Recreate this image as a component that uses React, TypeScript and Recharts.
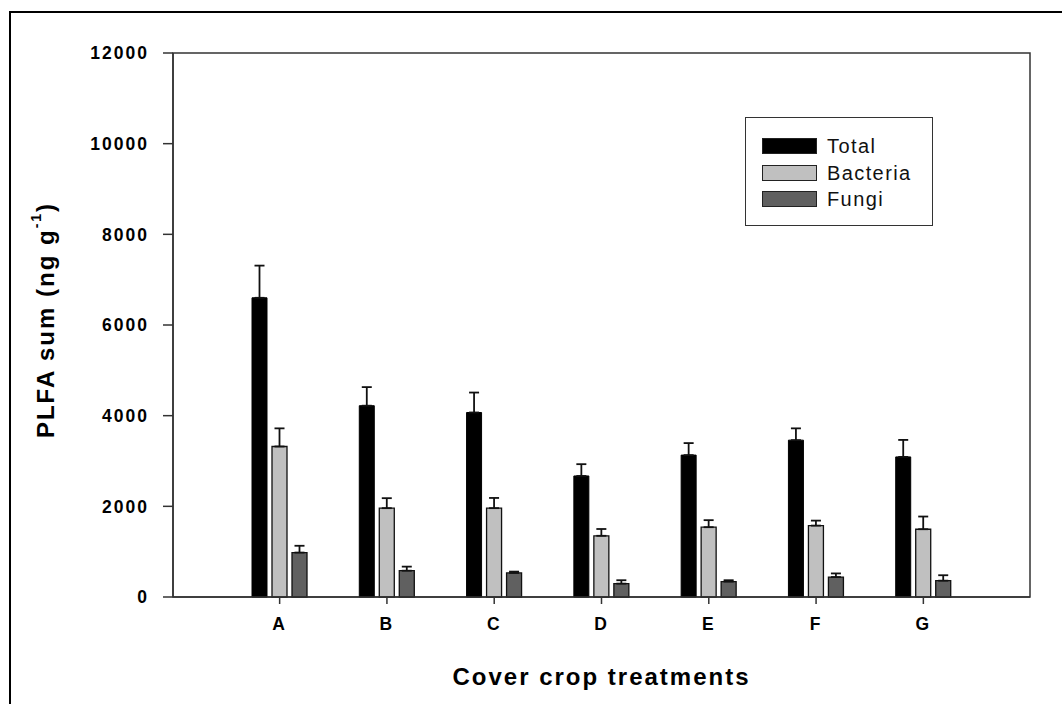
import React from 'react'
import {
  BarChart,
  Bar,
  XAxis,
  YAxis,
  ErrorBar,
  Legend,
  usePlotArea,
} from 'recharts'

const categories = ['A', 'B', 'C', 'D', 'E', 'F', 'G']
const totalMean = [6600, 4220, 4070, 2670, 3130, 3460, 3090]
const totalErr = [710, 410, 440, 260, 265, 260, 375]
const bacteriaMean = [3320, 1960, 1960, 1350, 1540, 1575, 1495]
const bacteriaErr = [400, 220, 225, 150, 155, 110, 280]
const fungiMean = [980, 580, 530, 295, 340, 440, 360]
const fungiErr = [150, 90, 30, 75, 30, 80, 120]
const seriesOrder = ['Total', 'Bacteria', 'Fungi']
const yTicks = [0, 2000, 4000, 6000, 8000, 10000, 12000]

const FONT = 'Arial, "Liberation Sans", sans-serif'
const AXIS = '#333'

// error bars only point upward, so the low side is 0
const data = categories.map((name, i) => ({
  name,
  total: totalMean[i],
  totalErr: [0, totalErr[i]],
  bacteria: bacteriaMean[i],
  bacteriaErr: [0, bacteriaErr[i]],
  fungi: fungiMean[i],
  fungiErr: [0, fungiErr[i]],
}))

// box round the plot area (SigmaPlot style frame)
function PlotFrame() {
  const area = usePlotArea()
  if (!area) return null
  return (
    <rect
      x={area.x}
      y={area.y}
      width={area.width}
      height={area.height}
      fill="none"
      stroke={AXIS}
      strokeWidth={1.5}
    />
  )
}

function LegendBox({ payload }: any) {
  const items = [...(payload ?? [])].sort(
    (a: any, b: any) => seriesOrder.indexOf(a.value) - seriesOrder.indexOf(b.value)
  )
  return (
    <div
      style={{
        width: 188,
        height: 109,
        boxSizing: 'border-box',
        border: `1.5px solid ${AXIS}`,
        background: '#fff',
        paddingTop: 15,
        paddingLeft: 16,
      }}
    >
      {items.map((p: any) => (
        <div key={p.value} style={{ display: 'flex', alignItems: 'center', height: 26.5 }}>
          <div
            style={{
              width: 55,
              height: 16,
              boxSizing: 'border-box',
              background: p.payload?.fill ?? p.color,
              border: '1.5px solid #222',
            }}
          />
          <span
            style={{
              marginLeft: 10,
              fontFamily: FONT,
              fontSize: 20,
              letterSpacing: 1.4,
              color: '#111',
              lineHeight: '20px',
            }}
          >
            {p.value}
          </span>
        </div>
      ))}
    </div>
  )
}

function YLabel({ viewBox }: any) {
  const x = viewBox.x + 22
  const y = 320
  return (
    <text
      x={x}
      y={y}
      transform={`rotate(-90 ${x} ${y})`}
      textAnchor="middle"
      dominantBaseline="central"
      fontFamily={FONT}
      fontWeight="bold"
      fontSize={24}
      letterSpacing={2}
      fill="#000"
    >
      PLFA sum (ng g
      <tspan dy={-9} fontSize={14}>-1</tspan>
      <tspan dy={9}>)</tspan>
    </text>
  )
}

function XLabel({ viewBox }: any) {
  return (
    <text
      x={viewBox.x + viewBox.width / 2}
      y={viewBox.y + 79}
      textAnchor="middle"
      dominantBaseline="central"
      fontFamily={FONT}
      fontWeight="bold"
      fontSize={24}
      letterSpacing={2}
      fill="#000"
    >
      Cover crop treatments
    </text>
  )
}

const tickStyle = {
  fontFamily: FONT,
  fontWeight: 'bold',
  fontSize: 17.5,
  letterSpacing: 2,
  fill: '#000',
}

export default function App() {
  return (
    <div
      style={{
        position: 'absolute',
        left: 0,
        top: 0,
        width: 1062,
        height: 704,
        overflow: 'hidden',
        background: '#fff',
      }}
    >
      <div
        style={{
          position: 'absolute',
          left: 9,
          top: 11,
          width: 2000,
          height: 2000,
          borderLeft: '2px solid #000',
          borderTop: '2px solid #000',
        }}
      />
      <BarChart
        width={1062}
        height={704}
        data={data}
        margin={{ top: 53, right: 32, bottom: 47, left: 23 }}
        barSize={15}
        barGap={5}
        style={{ position: 'absolute', left: 0, top: 0 }}
      >
        <PlotFrame />
        <XAxis
          dataKey="name"
          padding={{ left: 53, right: 53 }}
          height={60}
          axisLine={{ stroke: AXIS, strokeWidth: 1.5 }}
          tickLine={{ stroke: AXIS, strokeWidth: 1.5 }}
          tickSize={7}
          tickMargin={14}
          tick={tickStyle}
          interval={0}
          label={<XLabel />}
        />
        <YAxis
          domain={[0, 12000]}
          ticks={yTicks}
          interval={0}
          width={150}
          axisLine={{ stroke: AXIS, strokeWidth: 1.5 }}
          tickLine={{ stroke: AXIS, strokeWidth: 1.5 }}
          tickSize={10}
          tickMargin={14}
          tick={tickStyle}
          label={<YLabel />}
        />
        <Legend
          layout="vertical"
          align="center"
          verticalAlign="middle"
          wrapperStyle={{ left: 745, top: 117, width: 188, height: 109 }}
          content={<LegendBox />}
        />
        <Bar dataKey="total" name="Total" fill="#000" stroke="#000" strokeWidth={1} isAnimationActive={false}>
          <ErrorBar dataKey="totalErr" width={5} stroke="#111" strokeWidth={1.8} isAnimationActive={false} />
        </Bar>
        <Bar dataKey="bacteria" name="Bacteria" fill="#c0c0c0" stroke="#111" strokeWidth={1.3} isAnimationActive={false}>
          <ErrorBar dataKey="bacteriaErr" width={5} stroke="#111" strokeWidth={1.8} isAnimationActive={false} />
        </Bar>
        <Bar dataKey="fungi" name="Fungi" fill="#606060" stroke="#111" strokeWidth={1.3} isAnimationActive={false}>
          <ErrorBar dataKey="fungiErr" width={5} stroke="#111" strokeWidth={1.8} isAnimationActive={false} />
        </Bar>
      </BarChart>
    </div>
  )
}
